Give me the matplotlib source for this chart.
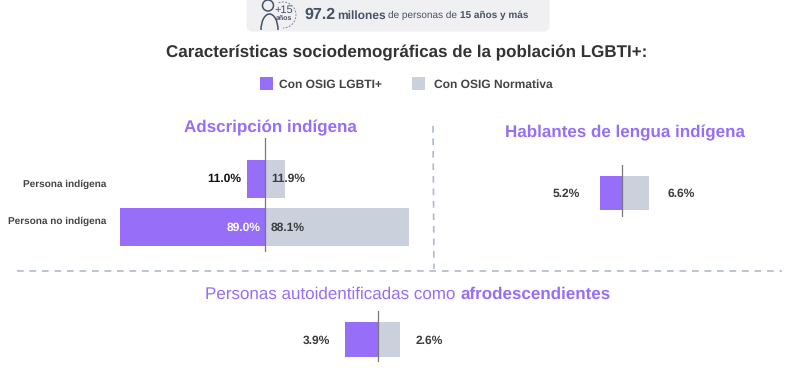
import matplotlib
matplotlib.use('Agg')
import matplotlib.pyplot as plt
from matplotlib.patches import FancyBboxPatch, Circle, Rectangle, Arc

plt.rcParams['font.family'] = ['Liberation Sans', 'DejaVu Sans']
plt.rcParams['text.hinting'] = 'no_hinting'
plt.rcParams['text.hinting_factor'] = 1

# data
groups_ads = ['Persona indígena', 'Persona no indígena']
lgbti_ads = [11.0, 89.0]
norma_ads = [11.9, 88.1]
lgbti_leng = [5.2]
norma_leng = [6.6]
lgbti_afro = [3.9]
norma_afro = [2.6]

PURPLE = '#966ef8'
GREY = '#cad0dc'
DASH = '#b0bacb'
DARK = '#3c3c3c'
INK = '#465268'
W, H = 800, 368

fig = plt.figure(figsize=(8, 3.68), dpi=100)

# overlay in pixel coordinates for the page furniture
bg = fig.add_axes([0, 0, 1, 1])
bg.set_xlim(0, W)
bg.set_ylim(H, 0)
bg.axis('off')


def butterfly(zero_x, scale, top, bottom, first_y, bar_h, pitch, left, right):
    # left bars run negative, right bars positive, the line sits at zero
    x0 = zero_x - max(left) * scale - 2
    x1 = zero_x + max(right) * scale + 2
    ax = fig.add_axes([x0 / W, 1 - bottom / H, (x1 - x0) / W, (bottom - top) / H])
    ax.axis('off')
    pos = list(range(len(left)))
    ax.barh(pos, [-v for v in left], height=bar_h / pitch, color=PURPLE)
    ax.barh(pos, right, height=bar_h / pitch, color=GREY)
    ax.set_xlim((x0 - zero_x) / scale, (x1 - zero_x) / scale)
    ax.set_ylim((bottom - first_y) / pitch, (top - first_y) / pitch)
    ax.axvline(0, color='#77777c', lw=0.9, zorder=3)
    return ax


def label(ax, x, y, txt, dx, ha, color=DARK, dy=0, size=8.6):
    # dx, dy are pixels away from the data point
    ax.annotate(txt, (x, y), xytext=(dx * 0.72, -dy * 0.72), textcoords='offset points',
                ha=ha, va='center', fontsize=size, fontweight='bold', color=color)


# banner
bg.add_patch(FancyBboxPatch((248.5, -10), 299, 39.5, boxstyle='round,pad=0,rounding_size=4',
                            fc='#f0f0f2', ec='#f0f0f2', lw=3))
bg.add_patch(Circle((268, 5.5), 5.5, fc='none', ec=INK, lw=1.1))
bg.add_patch(Arc((269.5, 30), 17, 32, theta1=180, theta2=360, ec=INK, lw=1.1))
bg.add_patch(Arc((283, 15), 26, 26, theta1=-110, theta2=90, ec='#7d869a', lw=0.7, ls=(0, (2, 1.5))))
bg.text(284, 10, '+15', fontsize=7.8, color=INK, ha='center', va='center')
bg.text(284, 18.5, 'años', fontsize=5, color=INK, ha='center', va='center', fontweight='bold')
bg.text(304, 15, '97.2', fontsize=11.2, color=INK, fontweight='bold', va='center')
bg.text(337, 15.5, 'millones', fontsize=8.3, color=INK, fontweight='bold', va='center')
bg.text(388, 15.5, 'de personas de', fontsize=7.3, color=INK, va='center')
bg.text(460, 15.5, '15 años y más', fontsize=7.3, color=INK, fontweight='bold', va='center')

# title and legend
bg.text(406.5, 53, 'Características sociodemográficas de la población LGBTI+:', fontsize=12.15,
        color='#333333', fontweight='bold', ha='center', va='center')
bg.add_patch(Rectangle((259.5, 77), 13, 13, fc=PURPLE, ec='none'))
bg.text(279, 84.5, 'Con OSIG LGBTI+', fontsize=8.3, color='#444444', fontweight='bold', va='center')
bg.add_patch(Rectangle((412, 77), 13, 13, fc=GREY, ec='none'))
bg.text(433.5, 84.5, 'Con OSIG Normativa', fontsize=8.3, color='#444444', fontweight='bold', va='center')

# separators
bg.plot([433, 434], [126, 269], color=DASH, lw=1.2, ls=(0, (4, 3.5)))
bg.plot([17, 782], [270.5, 270.5], color=DASH, lw=1.2, ls=(0, (4, 3.5)))

# section titles
bg.text(270, 128, 'Adscripción indígena', fontsize=12.2, color=PURPLE, fontweight='bold', ha='center', va='center')
bg.text(624.5, 133, 'Hablantes de lengua indígena', fontsize=12.15, color=PURPLE, fontweight='bold', ha='center', va='center')
t1 = bg.text(205, 294, 'Personas autoidentificadas como ', fontsize=12.2, color=PURPLE, va='center')
fig.canvas.draw()
bb = t1.get_window_extent()
bg.text(bb.x1, 294, 'afrodescendientes', fontsize=12.2, color=PURPLE, fontweight='bold', va='center')

# adscripcion indigena
ax1 = butterfly(265.2, 1.635, 138, 252, 179, 38, 47.5, lgbti_ads, norma_ads)
label(ax1, -lgbti_ads[0], 0, f'{lgbti_ads[0]:.1f}%', -6, 'right', color='#111111')
label(ax1, 0, 0, f'{norma_ads[0]:.1f}%', 6, 'left')
label(ax1, 0, 1, f'{lgbti_ads[1]:.1f}%', -5, 'right', color='white', dy=1)
label(ax1, 0, 1, f'{norma_ads[1]:.1f}%', 5.5, 'left', dy=1)
for i, g in enumerate(groups_ads):
    bg.text(106.5, [184.5, 221][i], g, fontsize=7.4, color='#444444', fontweight='bold', ha='right', va='center')

# hablantes de lengua indigena
ax2 = butterfly(621.5, 4.18, 165, 217, 193, 34, 40, lgbti_leng, norma_leng)
label(ax2, -lgbti_leng[0], 0, f'{lgbti_leng[0]:.1f}%', -20, 'right', dy=1)
label(ax2, norma_leng[0], 0, f'{norma_leng[0]:.1f}%', 18, 'left', dy=1)

# afrodescendientes
ax3 = butterfly(377.7, 8.5, 311, 362, 339.5, 35, 40, lgbti_afro, norma_afro)
label(ax3, -lgbti_afro[0], 0, f'{lgbti_afro[0]:.1f}%', -14, 'right', dy=1)
label(ax3, norma_afro[0], 0, f'{norma_afro[0]:.1f}%', 16, 'left', dy=1)

fig.savefig('out.png', dpi=100)
